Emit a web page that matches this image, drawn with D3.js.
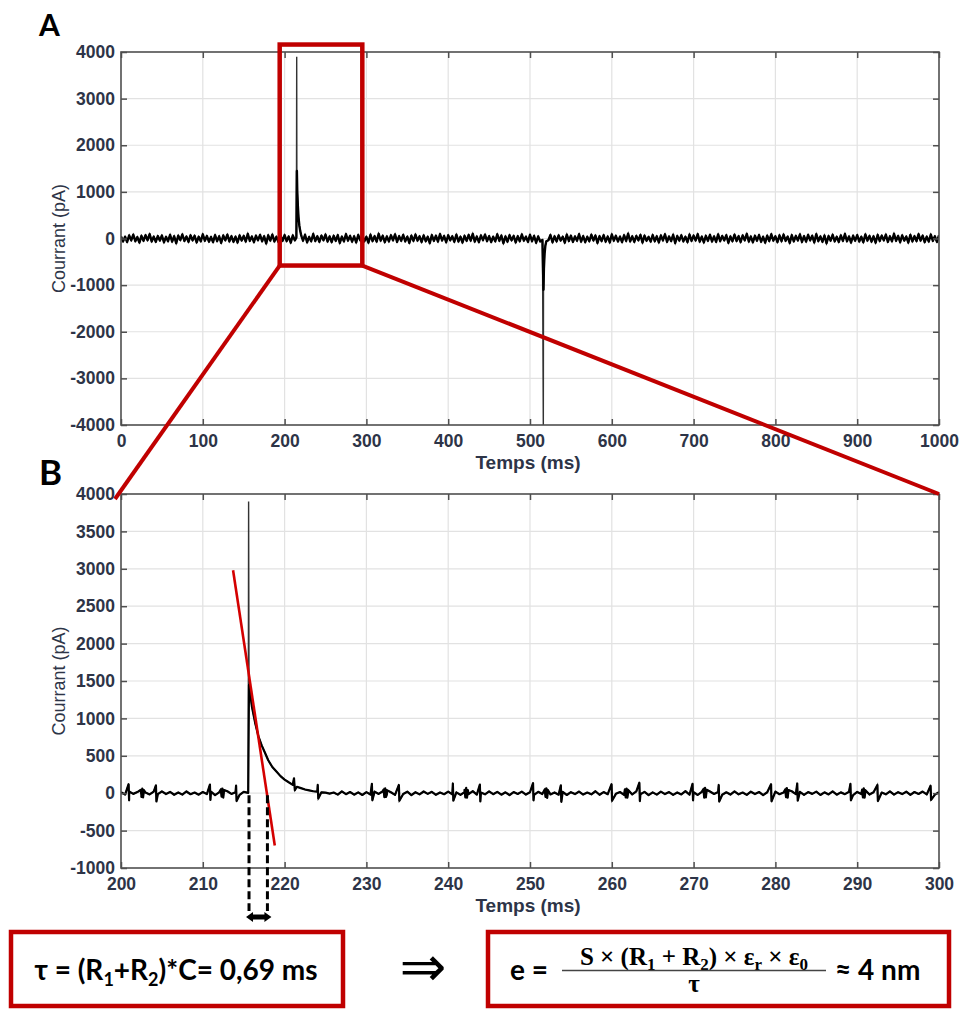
<!DOCTYPE html>
<html><head><meta charset="utf-8">
<script src="https://cdn.jsdelivr.net/npm/d3@7/dist/d3.min.js"></script>
<style>body{margin:0;background:#fff}svg{display:block}</style>
</head><body>
<svg id="c" width="960" height="1010"></svg>
<script>
// ---------------- DATA ----------------
const xTicksA = [0,100,200,300,400,500,600,700,800,900,1000];
const yTicksA = [-4000,-3000,-2000,-1000,0,1000,2000,3000,4000];
const xTicksB = [200,210,220,230,240,250,260,270,280,290,300];
const yTicksB = [-1000,-500,0,500,1000,1500,2000,2500,3000,3500,4000];

// Panel A: baseline noise sampled every 2.5 ms from 0 ms (pA)
const sampleStartA = 0, sampleStepA = 2.5;
const noiseA = [
45,-62,38,-75,66,-41,82,-58,30,-88,57,-49,71,-36,94,-63,40,-70,52,-45,
63,-80,35,-57,78,-66,48,-99,61,-34,86,-52,43,-73,69,-40,58,-84,37,-61,
90,-47,54,-68,33,-77,72,-55,46,-92,64,-38,81,-60,50,-71,39,-86,67,-43,
56,-65,98,-50,42,-79,60,-35,76,-58,47,-104,68,-44,83,-62,36,-74,59,-48,
73,-56,41,-90,65,-39,87,-67,52,-46,79,-81,34,-59,96,-53,48,-72,62,-37,
85,-64,44,-76,58,-50,70,-95,39,-61,92,-43,55,-68,47,-83,74,-41,63,-57,
36,-88,80,-54,49,-66,101,-45,57,-79,43,-62,69,-38,88,-71,51,-48,77,-60,
40,-93,61,-52,84,-44,46,-75,66,-58,35,-97,72,-49,59,-65,93,-42,53,-80,
68,-39,47,-70,82,-63,38,-86,57,-51,75,-46,99,-67,42,-78,64,-35,81,-55,
50,-74,37,-60,89,-48,62,-102,45,-69,71,-40,56,-83,48,-58,86,-45,39,-72,
78,-57,54,-91,43,-64,95,-50,61,-37,74,-81,47,-62,67,-44,38,-89,83,-53,
59,-70,44,-48,92,-66,51,-78,36,-59,80,-42,63,-95,49,-55,72,-68,41,-84,
87,-46,58,-63,40,-76,69,-52,103,-61,46,-73,55,-39,77,-87,60,-49,34,-66,
74,-58,48,-82,65,-41,90,-70,43,-54,79,-97,52,-45,68,-60,37,-78,85,-50,
62,-43,94,-67,39,-85,57,-48,76,-63,45,-71,88,-56,53,-40,70,-92,44,-59,
81,-52,50,-75,66,-38,99,-64,42,-80,58,-47,73,-69,36,-88,62,-53,91,-44,
47,-77,68,-57,84,-49,40,-96,71,-60,55,-42,86,-73,49,-65,78,-39,57,-83,
93,-55,45,-70,63,-102,52,-46,80,-61,38,-74,67,-51,96,-58,43,-86,59,-47,
70,-64,37,-81,89,-43,56,-68,48,-90,75,-53,61,-40,83,-72,46,-59,100,-48,
54,-79,66,-45,41,-87,77,-62,50,-56,92,-44,60,-76,39,-65,85,-50,47,-71,
69];
// Panel A: transient events [time ms, current pA] and the windows they replace
const eventWindowsA = [[214.0,221.0],[515.0,521.0]];
const eventsA = [
[214.4,20],[214.8,3900],[215.0,1450],[215.5,1000],[216.2,700],[217.0,460],[218.0,280],[219.0,170],[220.0,90],[220.8,40],
[515.2,-30],[516.3,-4100],[516.5,-1100],[517.0,-650],[517.8,-330],[518.8,-150],[520.0,-60]
];

// Panel B: baseline noise sampled every 0.5 ms from 200 ms (pA)
const sampleStartB = 200, sampleStepB = 0.5;
const noiseB = [
12,-18,22,-9,15,-24,8,-16,20,-13,25,-11,17,-21,10,-19,23,-14,9,-20,
16,-12,21,-25,11,-17,26,-10,14,-22,18,-15,24,-9,13,-18,20,-23,12,-16,
19,-11,23,-17,10,-21,15,-26,18,-12,22,-14,9,-19,25,-13,16,-20,11,-24,
14,-18,21,-10,26,-15,12,-22,17,-11,20,-25,13,-16,23,-9,18,-21,10,-14,
22,-17,11,-23,15,-12,27,-19,9,-15,24,-13,18,-20,12,-26,16,-10,21,-18,
13,-22,19,-11,25,-16,10,-20,17,-24,14,-12,22,-18,9,-15,26,-21,15,-13,
20,-9,16,-23,12,-17,24,-14,18,-26,11,-19,21,-12,15,-22,10,-16,27,-20,
14,-24,19,-13,23,-10,17,-21,12,-18,25,-15,9,-23,20,-11,16,-25,13,-17,
22,-14,10,-19,26,-12,18,-22,15,-9,21,-24,12,-16,24,-20,11,-13,19,-25,
17,-11,23,-18,13,-21,9,-15,25,-19,14,-12,20,-23,16,-10,22,-17,12,-20,
15];
// Panel B: the capacitive transient (replaces noise inside its window)
const decayWindowB = [215.5,225.6];
const decayB = [
[215.55,5],[215.6,3900],[215.65,1450],[215.8,1330],[216.0,1160],[216.4,940],[216.8,760],[217.2,640],[217.6,540],
[218.0,440],[218.5,350],[219.0,290],[219.5,228],[220.0,182],[220.5,146],[221.0,112],[221.15,200],[221.25,40],
[221.5,86],[222.0,68],[222.5,50],[223.0,38],[223.5,26],[224.0,20],[224.05,110],[224.12,-70],[224.5,12],[225.0,8],[225.5,-6]
];
// Panel B: short noise spikes and bursts [time ms, current pA]
const spikesB = [
[200.93,120],[200.99,-95],
[202.4,45],[202.5,-50],[202.6,60],[202.7,-55],[202.8,40],
[204.27,105],[204.33,-110],
[210.87,115],[210.93,-90],
[212.2,50],[212.3,-45],[212.4,62],[212.5,-58],[212.6,42],
[214.07,100],[214.13,-105],
[230.67,125],[230.73,-95],
[232.1,48],[232.2,-52],[232.3,65],[232.4,-50],[232.5,40],
[233.97,110],[234.03,-100],
[240.57,130],[240.63,-100],
[242.0,45],[242.1,-55],[242.2,70],[242.3,-60],[242.4,42],
[243.87,115],[243.93,-110],
[250.37,135],[250.43,-95],
[251.8,50],[251.9,-48],[252.0,66],[252.1,-62],[252.2,40],
[253.77,105],[253.83,-115],
[259.97,120],[260.03,-100],
[261.6,52],[261.7,-55],[261.8,62],[261.9,-58],[262.0,44],
[263.37,140],[263.43,-105],
[269.87,125],[269.93,-95],
[271.2,55],[271.3,-60],[271.4,72],[271.5,-55],[271.6,45],
[273.07,110],[273.13,-112],
[279.47,120],[279.53,-108],
[281.2,50],[281.3,-52],[281.4,68],[281.5,-60],[281.6,42],
[282.67,130],[282.73,-100],
[289.17,125],[289.23,-95],
[290.6,48],[290.7,-55],[290.8,66],[290.9,-58],[291.0,40],
[292.47,110],[292.53,-105],
[298.97,100],[299.03,-90]
];
// Panel B: tangent at the decay, and the two tau markers (ms)
const tangentB = [[213.7,2980],[218.8,-700]];
const tauMarksB = [215.65,217.9];
// Zoom window drawn on panel A (ms, pA)
const zoomTimeA = [194,295];
const zoomCurrA = [-580,4160];

// ---------------- LAYOUT ----------------
const svg = d3.select("#c");
const L = 121, R = 939;
const panA = {top:52, bot:425};
const panB = {top:494, bot:868};
const labelColor = "#2d3447";
const frameColor = "#4f4f4f";
const red = "#c00000";

const xA = d3.scaleLinear().domain([0,1000]).range([L,R]);
const yA = d3.scaleLinear().domain([-4000,4000]).range([panA.bot,panA.top]);
const xB = d3.scaleLinear().domain([200,300]).range([L,R]);
const yB = d3.scaleLinear().domain([-1000,4000]).range([panB.bot,panB.top]);

function buildTrace(start, step, noise, windows, extra){
  const pts = [];
  noise.forEach((v,i)=>{
    const t = start + i*step;
    if (!windows.some(w => t>=w[0] && t<=w[1])) pts.push([t,v]);
  });
  extra.forEach(p=>pts.push(p));
  pts.sort((a,b)=>a[0]-b[0]);
  return pts;
}
const traceA = buildTrace(sampleStartA, sampleStepA, noiseA, eventWindowsA, eventsA);
const traceB = buildTrace(sampleStartB, sampleStepB, noiseB, [decayWindowB], decayB.concat(spikesB));
const fmt = d => String(d);

function panel(id, x, y, p, xTicks, yTicks, trace, sw){
  const g = svg.append("g");
  // grid
  g.append("g").selectAll("line").data(xTicks.slice(1,-1)).join("line")
    .attr("x1",d=>x(d)).attr("x2",d=>x(d)).attr("y1",p.top).attr("y2",p.bot)
    .attr("stroke","#e2e2e2").attr("stroke-width",1.2);
  g.append("g").selectAll("line").data(yTicks.slice(1,-1)).join("line")
    .attr("y1",d=>y(d)).attr("y2",d=>y(d)).attr("x1",L).attr("x2",R)
    .attr("stroke","#e2e2e2").attr("stroke-width",1.2);
  // trace: thin full trace (fast spike appears as a fine grey line), thick for the rest
  svg.append("clipPath").attr("id","clip"+id).append("rect")
    .attr("x",L).attr("y",p.top).attr("width",R-L).attr("height",p.bot-p.top);
  const line = d3.line().x(d=>x(d[0])).y(d=>y(d[1]));
  g.append("path").datum(trace)
    .attr("clip-path",`url(#clip${id})`)
    .attr("fill","none").attr("stroke","#333").attr("stroke-width",1.4)
    .attr("d", line);
  g.append("path").datum(trace.filter(d => Math.abs(d[1]) < 3000))
    .attr("clip-path",`url(#clip${id})`)
    .attr("fill","none").attr("stroke","#000").attr("stroke-width",sw)
    .attr("stroke-linejoin","round")
    .attr("d", line);
  // axes
  const style = sel => {
    sel.select(".domain").remove();
    sel.selectAll(".tick line").attr("stroke",frameColor).attr("stroke-width",1.5);
    sel.selectAll(".tick text").attr("fill",labelColor)
      .style("font-family","'Liberation Sans', Arial, sans-serif")
      .style("font-weight","bold").style("font-size","17.5px");
  };
  g.append("g").attr("transform",`translate(0,${p.bot})`)
    .call(d3.axisBottom(x).tickValues(xTicks).tickSize(-6).tickSizeOuter(0).tickPadding(10).tickFormat(fmt)).call(style);
  g.append("g").attr("transform",`translate(0,${p.top})`)
    .call(d3.axisTop(x).tickValues(xTicks).tickSize(-6).tickSizeOuter(0).tickFormat("")).call(style);
  g.append("g").attr("transform",`translate(${L},0)`)
    .call(d3.axisLeft(y).tickValues(yTicks).tickSize(-6).tickSizeOuter(0).tickPadding(6).tickFormat(fmt)).call(style);
  g.append("g").attr("transform",`translate(${R},0)`)
    .call(d3.axisRight(y).tickValues(yTicks).tickSize(-6).tickSizeOuter(0).tickFormat("")).call(style);
  g.append("rect").attr("x",L).attr("y",p.top).attr("width",R-L).attr("height",p.bot-p.top)
    .attr("fill","none").attr("stroke",frameColor).attr("stroke-width",1.6);
  // axis titles
  g.append("text").attr("x",528).attr("y",p.bot+44).attr("text-anchor","middle")
    .attr("fill",labelColor).style("font-family","'Liberation Sans', Arial, sans-serif")
    .style("font-weight","bold").style("font-size","19px").text("Temps (ms)");
  g.append("text").attr("transform",`translate(65,${(p.top+p.bot)/2}) rotate(-90)`)
    .attr("text-anchor","middle").attr("fill",labelColor)
    .style("font-family","'Liberation Sans', Arial, sans-serif")
    .style("font-size","18px").text("Courrant (pA)");
}

panel("A", xA, yA, panA, xTicksA, yTicksA, traceA, 2.4);
panel("B", xB, yB, panB, xTicksB, yTicksB, traceB, 2.2);

// panel letters
svg.append("text").attr("x",39).attr("y",36).style("font-family","Lato, sans-serif")
  .style("font-weight","bold").style("font-size","30px").attr("fill","#000").text("A");
svg.append("text").attr("x",39).attr("y",485).style("font-family","Lato, sans-serif")
  .style("font-weight","bold").style("font-size","35px").attr("fill","#000").text("B");

// tangent
svg.append("path").datum(tangentB).attr("fill","none").attr("stroke","#d40000").attr("stroke-width",2.6)
  .attr("d", d3.line().x(d=>xB(d[0])).y(d=>yB(d[1])));

// tau dashed markers
svg.append("g").selectAll("line").data(tauMarksB).join("line")
  .attr("x1",d=>xB(d)).attr("x2",d=>xB(d)).attr("y1",yB(0)+2).attr("y2",911)
  .attr("stroke","#000").attr("stroke-width",3).attr("stroke-dasharray","8,4");
{
  const xl = xB(tauMarksB[0]) - 3, xr = xB(tauMarksB[1]) + 4, yc = 917;
  svg.append("path").attr("fill","#000")
    .attr("d",`M${xl},${yc} L${xl+7},${yc-5} L${xl+7},${yc-2.5} L${xr-7},${yc-2.5} L${xr-7},${yc-5} L${xr},${yc} L${xr-7},${yc+5} L${xr-7},${yc+2.5} L${xl+7},${yc+2.5} L${xl+7},${yc+5} Z`);
}

// zoom box and connectors
svg.append("rect").attr("x",xA(zoomTimeA[0])).attr("y",yA(zoomCurrA[1]))
  .attr("width",xA(zoomTimeA[1])-xA(zoomTimeA[0])).attr("height",yA(zoomCurrA[0])-yA(zoomCurrA[1]))
  .attr("fill","none").attr("stroke",red).attr("stroke-width",4.5);
svg.append("line").attr("x1",xA(zoomTimeA[0])).attr("y1",yA(zoomCurrA[0]))
  .attr("x2",xB(200)-6).attr("y2",yB(4000)+5).attr("stroke",red).attr("stroke-width",4);
svg.append("line").attr("x1",xA(zoomTimeA[1])).attr("y1",yA(zoomCurrA[0]))
  .attr("x2",xB(300)).attr("y2",yB(4000)).attr("stroke",red).attr("stroke-width",4);

// formula boxes
svg.append("rect").attr("x",11).attr("y",932).attr("width",332).attr("height",74)
  .attr("fill","none").attr("stroke",red).attr("stroke-width",4.5);
svg.append("rect").attr("x",488).attr("y",932).attr("width",461).attr("height",74)
  .attr("fill","none").attr("stroke",red).attr("stroke-width",4.5);

const t1 = svg.append("text").attr("x",176).attr("y",980).attr("text-anchor","middle")
  .style("font-family","Lato, sans-serif").style("font-weight","bold").style("font-size","28px").attr("fill","#000");
t1.append("tspan").text("τ = (R");
t1.append("tspan").attr("dy",6).style("font-size","18px").text("1");
t1.append("tspan").attr("dy",-6).text("+R");
t1.append("tspan").attr("dy",6).style("font-size","18px").text("2");
t1.append("tspan").attr("dy",-6).text(")*C= 0,69 ms");

svg.append("text").attr("x",423).attr("y",986).attr("text-anchor","middle")
  .style("font-family","'DejaVu Sans', sans-serif").style("font-size","56px").attr("fill","#000").text("⇒");

svg.append("text").attr("x",510).attr("y",980)
  .style("font-family","Lato, sans-serif").style("font-weight","bold").style("font-size","28px").attr("fill","#000").text("e =");
const num = svg.append("text").attr("x",694).attr("y",965).attr("text-anchor","middle")
  .style("font-family","'Liberation Serif', serif").style("font-weight","bold").style("font-size","25px").attr("fill","#000");
num.append("tspan").text("S × (R");
num.append("tspan").attr("dy",5).style("font-size","17px").text("1");
num.append("tspan").attr("dy",-5).text(" + R");
num.append("tspan").attr("dy",5).style("font-size","17px").text("2");
num.append("tspan").attr("dy",-5).text(") × ε");
num.append("tspan").attr("dy",5).style("font-size","17px").text("r");
num.append("tspan").attr("dy",-5).text(" × ε");
num.append("tspan").attr("dy",5).style("font-size","17px").text("0");
svg.append("line").attr("x1",562).attr("x2",826).attr("y1",970.5).attr("y2",970.5)
  .attr("stroke","#444").attr("stroke-width",1.5);
svg.append("text").attr("x",694).attr("y",992).attr("text-anchor","middle")
  .style("font-family","'Liberation Serif', serif").style("font-weight","bold").style("font-size","25px").attr("fill","#000").text("τ");
svg.append("text").attr("x",835).attr("y",980)
  .style("font-family","Lato, sans-serif").style("font-weight","bold").style("font-size","28px").attr("fill","#000").text("≈ 4 nm");
</script>
</body></html>
